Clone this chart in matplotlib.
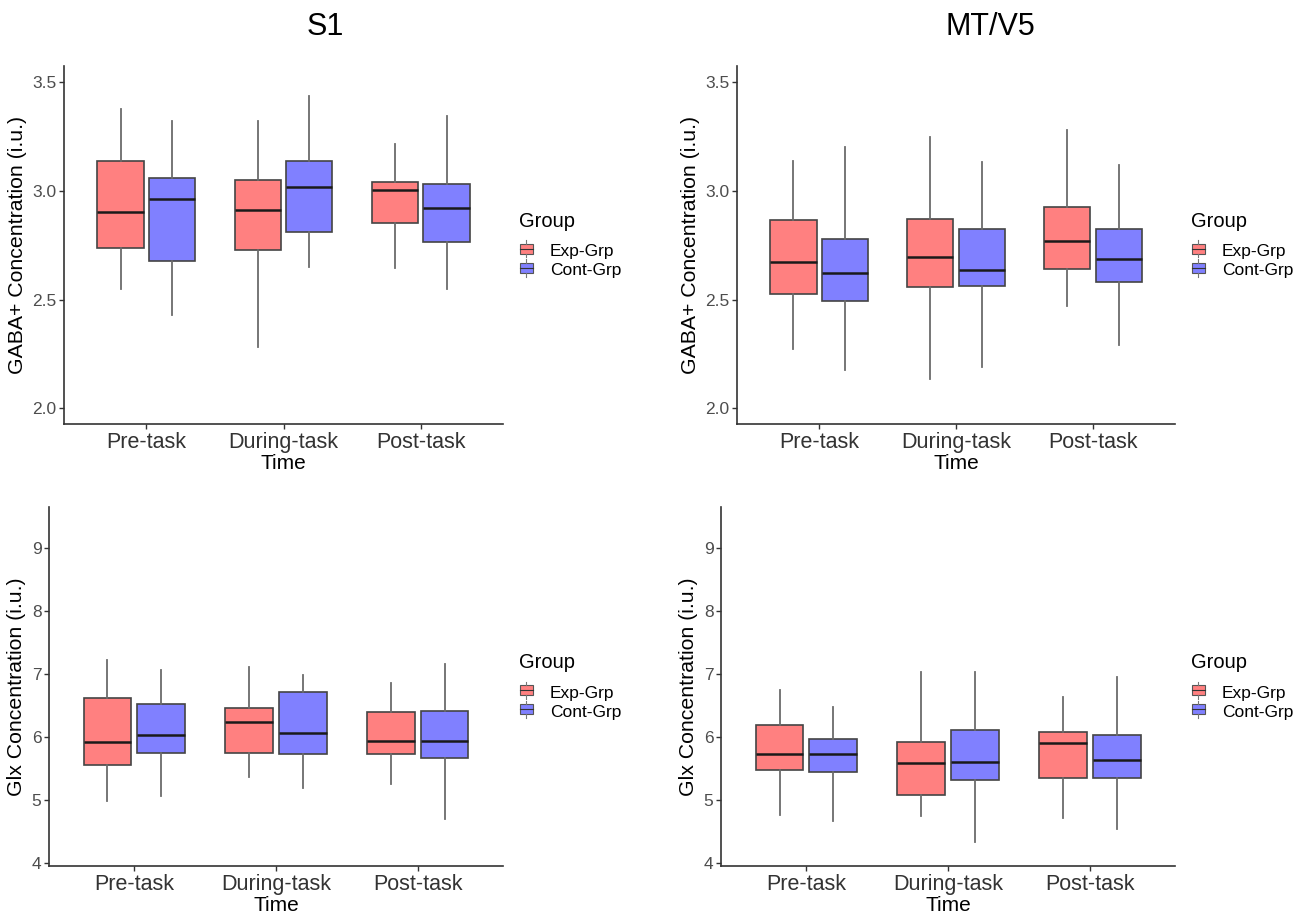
import matplotlib
matplotlib.use('Agg')
import matplotlib.pyplot as plt
from matplotlib.legend_handler import HandlerBase
from matplotlib.patches import Rectangle
from matplotlib.lines import Line2D

plt.rcParams['font.family'] = ['Liberation Sans', 'DejaVu Sans']

times = ['Pre-task', 'During-task', 'Post-task']
groups = ['Exp-Grp', 'Cont-Grp']
fills = ['#FF8080', '#8080FF']

# each row: [whisker low, Q1, median, Q3, whisker high] for Pre, During, Post
s1_gaba_exp = [[2.550, 2.737, 2.902, 3.140, 3.378],
               [2.283, 2.730, 2.912, 3.051, 3.323],
               [2.644, 2.851, 3.005, 3.041, 3.218]]
s1_gaba_cont = [[2.429, 2.676, 2.965, 3.060, 3.323],
                [2.651, 2.813, 3.017, 3.140, 3.438],
                [2.547, 2.765, 2.920, 3.031, 3.346]]

mt_gaba_exp = [[2.272, 2.527, 2.671, 2.868, 3.137],
               [2.137, 2.559, 2.697, 2.871, 3.250],
               [2.469, 2.639, 2.771, 2.928, 3.281]]
mt_gaba_cont = [[2.175, 2.493, 2.624, 2.779, 3.204],
                [2.189, 2.565, 2.636, 2.823, 3.132],
                [2.292, 2.581, 2.685, 2.823, 3.121]]

s1_glx_exp = [[4.981, 5.549, 5.926, 6.626, 7.226],
              [5.368, 5.751, 6.244, 6.456, 7.120],
              [5.246, 5.729, 5.942, 6.398, 6.865]]
s1_glx_cont = [[5.061, 5.740, 6.032, 6.531, 7.062],
               [5.188, 5.729, 6.058, 6.711, 6.987],
               [4.700, 5.671, 5.942, 6.409, 7.157]]

mt_glx_exp = [[4.763, 5.480, 5.724, 6.191, 6.754],
              [4.747, 5.071, 5.586, 5.915, 7.035],
              [4.715, 5.347, 5.899, 6.085, 6.637]]
mt_glx_cont = [[4.657, 5.443, 5.724, 5.973, 6.472],
               [4.333, 5.310, 5.597, 6.117, 7.035],
               [4.535, 5.347, 5.628, 6.032, 6.950]]

gaba_ticks = [2.0, 2.5, 3.0, 3.5]
glx_ticks = [4, 5, 6, 7, 8, 9]


class BoxKey(HandlerBase):
    def create_artists(self, legend, orig_handle, xd, yd, width, height, fontsize, trans):
        cx = xd + width / 2
        w = width * 0.8
        h = height * 0.75
        rect = Rectangle((cx - w / 2, yd + height / 2 - h / 2), w, h,
                         facecolor=orig_handle.get_facecolor(), edgecolor='#555555',
                         linewidth=0.8, transform=trans)
        med = Line2D([cx - w / 2, cx + w / 2], [yd + height / 2] * 2,
                     color='#333333', linewidth=0.8, transform=trans)
        top = Line2D([cx, cx], [yd + height / 2 + h / 2, yd + height + 1.5],
                     color='#777777', linewidth=0.8, transform=trans)
        bot = Line2D([cx, cx], [yd - 1.5, yd + height / 2 - h / 2],
                     color='#777777', linewidth=0.8, transform=trans)
        return [rect, med, top, bot]


def panel(ax, exp, cont, ylabel, ylim, yticks, ticklabels):
    offset = 0.188
    width = 0.337
    for data, fill, sign in [(exp, fills[0], -1), (cont, fills[1], 1)]:
        stats = []
        for lo, q1, med, q3, hi in data:
            stats.append(dict(whislo=lo, q1=q1, med=med, q3=q3, whishi=hi, fliers=[]))
        pos = [i + 1 + sign * offset for i in range(len(data))]
        ax.bxp(stats, positions=pos, widths=width, patch_artist=True,
               showcaps=False, showfliers=False,
               boxprops=dict(facecolor=fill, edgecolor='#444444', linewidth=1.2),
               medianprops=dict(color='#1a1a1a', linewidth=1.8),
               whiskerprops=dict(color='#6b6b6b', linewidth=1.3),
               manage_ticks=False)
    ax.set_xlim(0.4, 3.6)
    ax.set_ylim(*ylim)
    ax.set_xticks([1, 2, 3])
    ax.set_xticklabels(times, fontsize=15.5, color='#333333')
    ax.set_yticks(yticks)
    ax.set_yticklabels(ticklabels, fontsize=12.5, color='#4d4d4d')
    ax.set_xlabel('Time', fontsize=15, labelpad=1)
    ax.set_ylabel(ylabel, fontsize=15.3, labelpad=4)
    for s in ['top', 'right']:
        ax.spines[s].set_visible(False)
    for s in ['left', 'bottom']:
        ax.spines[s].set_color('#333333')
        ax.spines[s].set_linewidth(1.2)
    ax.tick_params(length=3.5, width=1, color='#333333', pad=2)
    handles = [Rectangle((0, 0), 1, 1, facecolor=f) for f in fills]
    leg = ax.legend(handles, groups, title='Group', loc='center left',
                    bbox_to_anchor=(1.0, 0.5), frameon=False, fontsize=12.5,
                    title_fontsize=14.5, handler_map={Rectangle: BoxKey()},
                    handlelength=0.9, handleheight=0.8, handletextpad=0.9,
                    labelspacing=0.2)
    leg._legend_box.align = 'left'
    leg._legend_box.sep = 9


fig = plt.figure(figsize=(13.11, 9.14), dpi=100)
ax1 = fig.add_axes([0.0488, 0.5361, 0.3349, 0.3917])
ax2 = fig.add_axes([0.5622, 0.5361, 0.3341, 0.3917])
ax3 = fig.add_axes([0.0374, 0.0525, 0.3463, 0.3928])
ax4 = fig.add_axes([0.5500, 0.0525, 0.3463, 0.3928])

gaba_lab = 'GABA+ Concentration (i.u.)'
glx_lab = 'Glx Concentration (i.u.)'
panel(ax1, s1_gaba_exp, s1_gaba_cont, gaba_lab, (1.928, 3.575), gaba_ticks,
      ['%.1f' % t for t in gaba_ticks])
panel(ax2, mt_gaba_exp, mt_gaba_cont, gaba_lab, (1.928, 3.575), gaba_ticks,
      ['%.1f' % t for t in gaba_ticks])
panel(ax3, s1_glx_exp, s1_glx_cont, glx_lab, (3.946, 9.66), glx_ticks,
      [str(t) for t in glx_ticks])
panel(ax4, mt_glx_exp, mt_glx_cont, glx_lab, (3.946, 9.66), glx_ticks,
      [str(t) for t in glx_ticks])

fig.text(325 / 1311, 1 - 27 / 914, 'S1', fontsize=22, ha='center', va='center')
fig.text(990 / 1311, 1 - 27 / 914, 'MT/V5', fontsize=22, ha='center', va='center')

fig.savefig('out.png', dpi=100, facecolor='white')
